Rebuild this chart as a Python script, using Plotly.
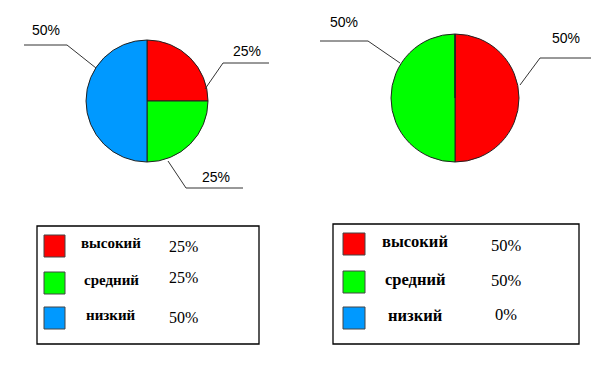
import plotly.graph_objects as go

# page body has an 8px default margin; compensate
OFF = 8
W, H = 613 - OFF, 370 - OFF

# ---- data ----
categories = ["высокий", "средний", "низкий"]
colors = ["#ff0000", "#00ff00", "#0099ff"]
left_values = [25, 25, 50]
right_values = [50, 50, 0]
left_labels = ["25%", "25%", "50%"]
right_labels = ["50%", "50%", "0%"]


def px(x):
    return (x - OFF) / W


def py(y):
    return 1 - (y - OFF) / H


fig = go.Figure()

# pies (domain in pixel units converted to paper)
pie_boxes = [
    (86, 208, 40, 162),   # left: x0, x1, y_top, y_bottom
    (391, 519, 34, 162),  # right
]
for vals, box in zip([left_values, right_values], pie_boxes):
    x0, x1, yt, yb = box
    fig.add_trace(go.Pie(
        labels=categories,
        values=vals,
        sort=False,
        direction="clockwise",
        rotation=0,
        textinfo="none",
        hoverinfo="label+percent",
        marker=dict(colors=colors, line=dict(color="#222222", width=1)),
        domain=dict(x=[px(x0), px(x1)], y=[py(yb), py(yt)]),
        showlegend=False,
    ))

shapes = []
annotations = []


def text(x, y, t, font):
    annotations.append(dict(x=px(x), y=py(y), xref="paper", yref="paper",
                            xanchor="center", yanchor="middle",
                            text=t, showarrow=False, font=font))


sans = dict(family="Liberation Sans, Arial", size=14, color="#000")

# leader lines: list of polyline points and label positions
leaders = [
    ([(24, 45), (67, 45), (96, 68)], left_labels[2], (46, 30)),
    ([(205, 89), (223, 63), (269, 63)], left_labels[0], (247, 51)),
    ([(168, 161), (186, 188), (243, 188)], left_labels[1], (216, 177)),
    ([(320, 41), (368, 41), (400, 63)], right_labels[1], (344, 22)),
    ([(520, 85), (540, 58), (591, 58)], right_labels[0], (566, 38)),
]
for pts, txt, (lx, ly) in leaders:
    path = "M " + " L ".join(f"{px(x)},{py(y)}" for x, y in pts)
    shapes.append(dict(type="path", xref="paper", yref="paper", path=path,
                       line=dict(color="#333333", width=1)))
    text(lx, ly, txt, sans)

# legend boxes
legend_boxes = [
    dict(box=(37, 226, 259, 344), sq_x=(44, 65), lab_x=111, pct_x=183,
         rows=[246, 283, 318], pct_y=[246, 277, 317], pcts=left_labels,
         lab_size=15, pct_size=16),
    dict(box=(333, 224, 579, 344), sq_x=(343, 365), lab_x=415, pct_x=506,
         rows=[244, 282, 318], pct_y=[245, 280, 314], pcts=right_labels,
         lab_size=16.5, pct_size=16.5),
]
for lb in legend_boxes:
    x0, y0, x1, y1 = lb["box"]
    shapes.append(dict(type="rect", xref="paper", yref="paper",
                       x0=px(x0), x1=px(x1), y0=py(y1), y1=py(y0),
                       line=dict(color="#000", width=1.3), fillcolor="rgba(0,0,0,0)"))
    serif_b = dict(family="Liberation Serif, Times New Roman", size=lb["lab_size"], color="#000")
    serif = dict(family="Liberation Serif, Times New Roman", size=lb["pct_size"], color="#000")
    for i, cat in enumerate(categories):
        cy = lb["rows"][i]
        sx0, sx1 = lb["sq_x"]
        shapes.append(dict(type="rect", xref="paper", yref="paper",
                           x0=px(sx0), x1=px(sx1), y0=py(cy + 11), y1=py(cy - 11),
                           line=dict(color="#444", width=1), fillcolor=colors[i]))
        text(lb["lab_x"], cy - 3, f"<b>{cat}</b>", serif_b)
        text(lb["pct_x"], lb["pct_y"][i], lb["pcts"][i], serif)

fig.update_layout(
    width=W, height=H,
    margin=dict(l=0, r=0, t=0, b=0),
    paper_bgcolor="white",
    plot_bgcolor="white",
    shapes=shapes,
    annotations=annotations,
)

fig.write_html("out.html")
